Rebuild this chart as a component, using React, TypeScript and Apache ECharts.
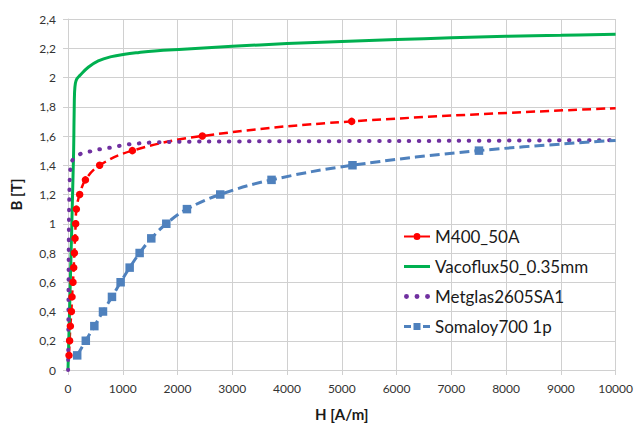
import React, { useEffect, useRef } from "react";
import * as echarts from "echarts";

// B-H magnetisation curves of four soft magnetic materials
const seriesNames = ["M400_50A", "Vacoflux50_0.35mm", "Metglas2605SA1", "Somaloy700 1p"];

// M400_50A electrical steel (measured points, last point drawn without marker)
const m400H = [18, 30, 43, 62, 73, 91, 104, 116, 128, 140, 152, 213, 318, 578, 1175, 2453, 5180, 10000];
const m400B = [0.1, 0.2, 0.3, 0.4, 0.5, 0.6, 0.7, 0.8, 0.9, 1.0, 1.1, 1.2, 1.3, 1.4, 1.5, 1.6, 1.7, 1.79];

// Vacoflux 50, 0.35 mm sheet
const vacoH = [0, 100, 112, 120, 135, 160, 214, 370, 553, 792, 1035, 1278, 1582, 2100, 3000, 4000, 5000, 6000, 7000, 8000, 9000, 10000];
const vacoB = [0, 1.45, 1.75, 1.9, 1.96, 1.99, 2.013, 2.07, 2.114, 2.143, 2.159, 2.17, 2.181, 2.193, 2.213, 2.232, 2.247, 2.26, 2.271, 2.282, 2.289, 2.296];

// Metglas 2605SA1 amorphous ribbon
const metglasH = [2, 6, 10, 15, 22, 35, 55, 85, 220, 400, 585, 767, 950, 1130, 1310, 1500, 2000, 3000, 5000, 7000, 10000];
const metglasB = [0, 0.3, 0.6, 0.9, 1.15, 1.33, 1.41, 1.436, 1.476, 1.494, 1.51, 1.52, 1.533, 1.544, 1.55, 1.555, 1.56, 1.563, 1.565, 1.567, 1.572];

// Somaloy 700 1p soft magnetic composite (last point drawn without marker)
const somaloyH = [168, 325, 481, 639, 803, 961, 1126, 1308, 1521, 1795, 2172, 2780, 3717, 5195, 7505, 10000];
const somaloyB = [0.1, 0.2, 0.3, 0.4, 0.5, 0.6, 0.7, 0.8, 0.9, 1.0, 1.1, 1.2, 1.3, 1.4, 1.5, 1.57];

// Axis ranges
const hMin = 0;
const hMax = 10000;
const hStep = 1000;
const bMin = 0;
const bMax = 2.4;
const bStep = 0.2;

const colors = ["#FF0000", "#00B050", "#7030A0", "#4F81BD"];
const FONT = 'Lato, "Open Sans", sans-serif';

// Legend keys: line with dot, plain line, three dots, dash-square-dash
const legendIcons = [
  "path://M0,6 H9.5 V8 H0 Z M16.5,6 H26 V8 H16.5 Z M9.5,7 A3.5,3.5 0 1 1 16.5,7 A3.5,3.5 0 1 1 9.5,7 Z",
  "path://M0,0 H26 V3 H0 Z",
  "path://M0,2 A2,2 0 1 0 4,2 A2,2 0 1 0 0,2 Z M8.5,2 A2,2 0 1 0 12.5,2 A2,2 0 1 0 8.5,2 Z M17,2 A2,2 0 1 0 21,2 A2,2 0 1 0 17,2 Z",
  "path://M0,2.5 H7 V5.5 H0 Z M9.5,0.5 H16.5 V7.5 H9.5 Z M19,2.5 H26 V5.5 H19 Z",
];

function pairs(xs: number[], ys: number[]) {
  return xs.map((x, i) => [x, ys[i]]);
}

// Marks every point except the final one, which only extends the curve
function pairsOpenEnd(xs: number[], ys: number[]) {
  return xs.map((x, i) =>
    i === xs.length - 1 ? { value: [x, ys[i]], symbol: "none" } : [x, ys[i]]
  );
}

export default function App() {
  const ref = useRef<HTMLDivElement>(null);

  useEffect(() => {
    if (!ref.current) return;
    const chart = echarts.init(ref.current, undefined, { renderer: "svg" });
    const gridColor = "#D0D0D0";

    chart.setOption({
      animation: false,
      backgroundColor: "#FFFFFF",
      textStyle: { fontFamily: FONT },
      color: colors,
      grid: { left: 68, right: 20, top: 19, bottom: 49 },
      legend: {
        orient: "vertical",
        left: 404,
        top: 228,
        padding: 0,
        itemWidth: 26,
        itemHeight: 14,
        itemGap: 13,
        textStyle: { fontSize: 17, color: "#1A1A1A", fontFamily: FONT },
        data: seriesNames.map((name, i) => ({ name, icon: legendIcons[i] })),
      },
      xAxis: {
        type: "value",
        min: hMin,
        max: hMax,
        interval: hStep,
        name: "H [A/m]",
        nameLocation: "middle",
        nameGap: 36,
        nameTextStyle: { fontSize: 15, fontWeight: "bold", color: "#1A1A1A" },
        axisLine: { show: true, lineStyle: { color: gridColor } },
        axisTick: { show: true, length: 5, lineStyle: { color: gridColor } },
        axisLabel: { fontSize: 12, color: "#333333", margin: 12, formatter: (v: number) => String(v) },
        splitLine: { show: true, lineStyle: { color: gridColor, width: 1 } },
      },
      yAxis: {
        type: "value",
        min: bMin,
        max: bMax,
        interval: bStep,
        name: "B [T]",
        nameLocation: "middle",
        nameGap: 45,
        nameRotate: 90,
        nameTextStyle: { fontSize: 15, fontWeight: "bold", color: "#1A1A1A" },
        axisLine: { show: true, lineStyle: { color: gridColor } },
        axisTick: { show: true, length: 5, lineStyle: { color: gridColor } },
        axisLabel: {
          fontSize: 12,
          color: "#333333",
          margin: 12,
          formatter: (v: number) => String(Math.round(v * 10) / 10).replace(".", ","),
        },
        splitLine: { show: true, lineStyle: { color: gridColor, width: 1 } },
      },
      series: [
        {
          name: seriesNames[0],
          type: "line",
          data: pairsOpenEnd(m400H, m400B),
          smooth: 0.4,
          symbol: "circle",
          symbolSize: 7.5,
          lineStyle: { color: colors[0], width: 2.5, type: [9, 5] },
          itemStyle: { color: colors[0], borderWidth: 0 },
        },
        {
          name: seriesNames[1],
          type: "line",
          data: pairs(vacoH, vacoB),
          smooth: 0.4,
          showSymbol: false,
          symbol: "none",
          lineStyle: { color: colors[1], width: 3 },
          itemStyle: { color: colors[1] },
        },
        {
          name: seriesNames[2],
          type: "line",
          data: pairs(metglasH, metglasB),
          smooth: 0.4,
          showSymbol: false,
          symbol: "none",
          lineStyle: { color: colors[2], width: 4, type: [0.5, 9.5], cap: "round" },
          itemStyle: { color: colors[2] },
        },
        {
          name: seriesNames[3],
          type: "line",
          data: pairsOpenEnd(somaloyH, somaloyB),
          smooth: 0.4,
          symbol: "rect",
          symbolSize: 8.5,
          lineStyle: { color: colors[3], width: 3, type: [10, 5] },
          itemStyle: { color: colors[3], borderWidth: 0 },
        },
      ],
    });

    return () => chart.dispose();
  }, []);

  return (
    <div
      ref={ref}
      style={{ position: "fixed", left: 0, top: 0, width: 636, height: 426, background: "#fff" }}
    />
  );
}
